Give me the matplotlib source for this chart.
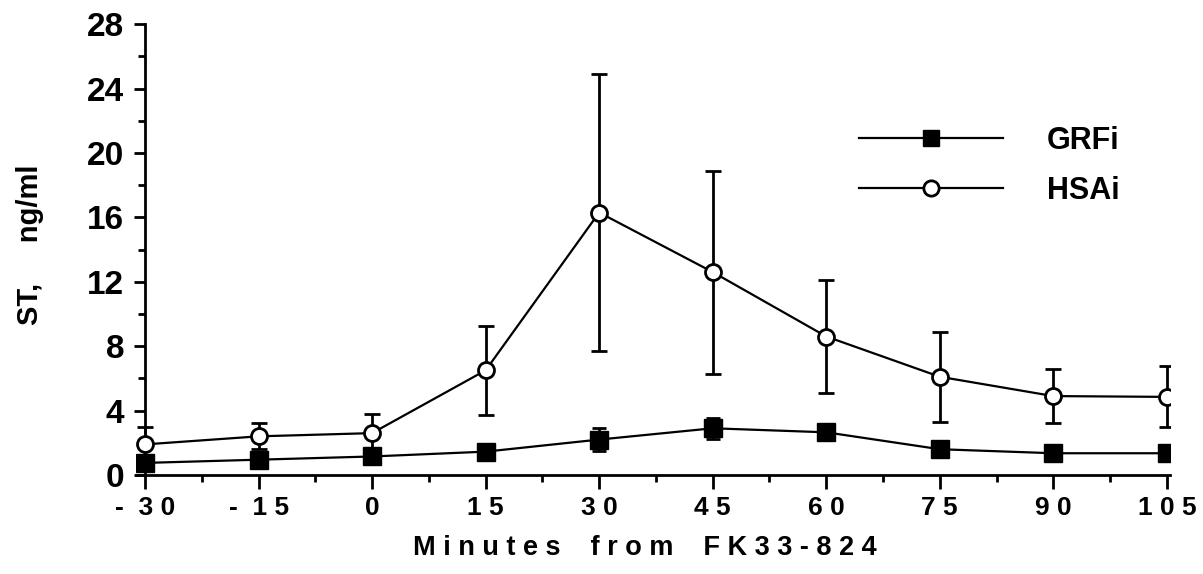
import matplotlib.pyplot as plt
from matplotlib.lines import Line2D

minutes = [-30, -15, 0, 15, 30, 45, 60, 75, 90, 105]
tick_labels = ["-  3 0", "-  1 5", "0", "1 5", "3 0", "4 5", "6 0", "7 5", "9 0", "1 0 5"]

grfi = [0.75, 0.95, 1.15, 1.45, 2.2, 2.9, 2.65, 1.6, 1.35, 1.35]
grfi_err = [0.2, 0.2, 0.3, 0.2, 0.7, 0.65, 0.3, 0.2, 0.15, 0.15]

hsai = [1.9, 2.4, 2.6, 6.5, 16.3, 12.6, 8.6, 6.1, 4.9, 4.85]
hsai_err = [1.1, 0.8, 1.2, 2.75, 8.6, 6.3, 3.5, 2.8, 1.7, 1.9]

plt.rcParams["font.family"] = ["Liberation Sans", "DejaVu Sans"]
plt.rcParams["font.weight"] = "bold"

fig = plt.figure(figsize=(12.03, 5.74), dpi=100)
ax = fig.add_axes([0.113, 0.1725, 0.8595, 0.7855])

ax.errorbar(minutes, hsai, yerr=hsai_err, color="black", lw=1.6, elinewidth=2,
            capsize=6, capthick=2, marker="o", markersize=11.5,
            markerfacecolor="white", markeredgecolor="black", markeredgewidth=2,
            zorder=3)
ax.errorbar(minutes, grfi, yerr=grfi_err, color="black", lw=1.6, elinewidth=2,
            capsize=5, capthick=2, marker="s", markersize=13,
            markerfacecolor="black", markeredgecolor="black",
            zorder=4)

ax.set_xlim(-31.2, 105.4)
ax.set_ylim(0, 28)
ax.spines["top"].set_visible(False)
ax.spines["right"].set_visible(False)
ax.spines["left"].set_position(("data", -30))
ax.spines["left"].set_linewidth(2)
ax.spines["bottom"].set_linewidth(2)

ax.set_yticks(range(0, 29, 4))
ax.set_yticks(range(2, 29, 4), minor=True)
ax.set_xticks(minutes)
ax.set_xticklabels(tick_labels)
ax.set_xticks([m + 7.5 for m in minutes[:-1]], minor=True)
ax.tick_params(axis="y", which="major", labelsize=24, length=8, width=2, pad=7)
ax.tick_params(axis="y", which="minor", length=5, width=2)
ax.tick_params(axis="x", which="major", labelsize=19, length=10, width=2, pad=5)
ax.tick_params(axis="x", which="minor", length=5, width=2)
for lbl in ax.get_xticklabels() + ax.get_yticklabels():
    lbl.set_fontweight("bold")

handles = [
    Line2D([], [], color="black", lw=1.6, marker="s", markersize=11,
           markerfacecolor="black", markeredgecolor="black"),
    Line2D([], [], color="black", lw=1.6, marker="o", markersize=11,
           markerfacecolor="white", markeredgecolor="black", markeredgewidth=2),
]
leg = ax.legend(handles, ["GRFi", "HSAi"], loc="upper left",
                bbox_to_anchor=(859 / 1203, 1 - 126 / 574), bbox_transform=fig.transFigure,
                frameon=False, fontsize=22, handlelength=4.7, handletextpad=1.45,
                labelspacing=0.65, borderpad=0, borderaxespad=0)
for t in leg.get_texts():
    t.set_fontweight("bold")

fig.text(30 / 1203, 1 - 245 / 574, "ST,     ng/ml", rotation=90, ha="center", va="center",
         fontsize=21, fontweight="bold")
fig.text(645 / 1203, 1 - 548 / 574, "M i n u t e s    f r o m    F K 3 3 - 8 2 4",
         ha="center", va="center", fontsize=19.5, fontweight="bold")

fig.savefig("out.png", dpi=100)
